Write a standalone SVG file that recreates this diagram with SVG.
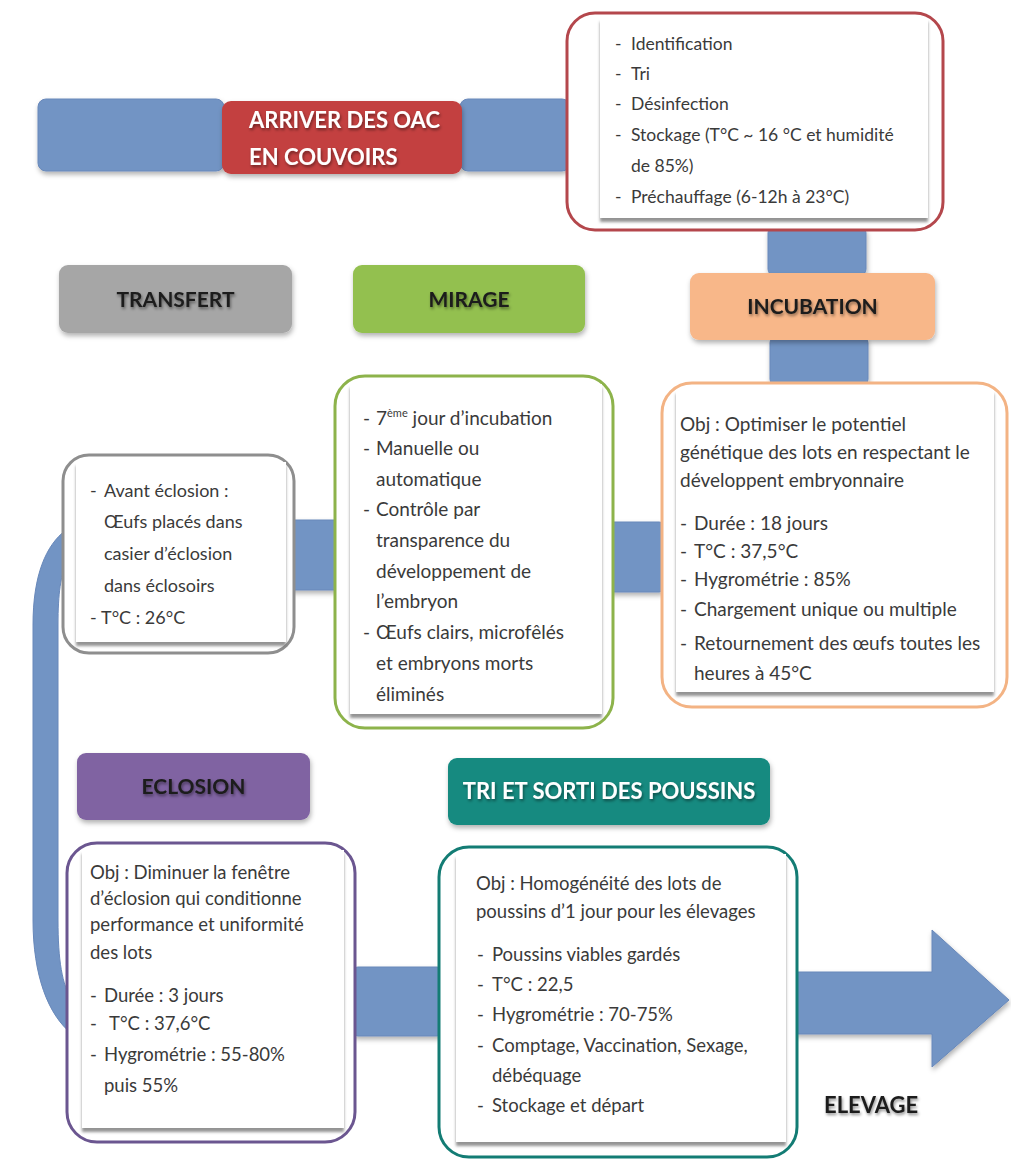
<svg xmlns="http://www.w3.org/2000/svg" width="1011" height="1160" viewBox="0 0 1011 1160">
<defs>
<filter id="sh" x="-10%" y="-10%" width="130%" height="140%"><feDropShadow dx="1" dy="3" stdDeviation="2.5" flood-color="#000" flood-opacity="0.3"/></filter>
<filter id="ish" x="-10%" y="-10%" width="120%" height="120%"><feDropShadow dx="0" dy="4" stdDeviation="1.5" flood-color="#777" flood-opacity="0.8"/></filter>
<filter id="tsh" x="-10%" y="-30%" width="120%" height="170%"><feDropShadow dx="1" dy="2" stdDeviation="1.5" flood-color="#000" flood-opacity="0.45"/></filter>
<style>
.blue{fill:#7294c4;stroke:#6888ba;stroke-width:1}
.hdr{font-family:Lato,"Liberation Sans",sans-serif;font-weight:bold;font-size:21px}
.big{font-size:22px}
.dark{fill:#1c1c1c}
.white{fill:#ffffff}
.body{font-family:Lato,"Liberation Sans",sans-serif;font-size:18px;fill:#3a3a3a}
.s175{font-size:17.5px}
.s185{font-size:18.5px}
.s19{font-size:19px}
.inner{fill:#ffffff}
.frame{fill:#ffffff;stroke-width:3}
</style>
</defs>
<rect width="1011" height="1160" fill="#ffffff"/>

<g id="connectors">
<rect class="blue" x="38" y="99" width="186" height="72" rx="8" filter="url(#sh)"/>
<rect class="blue" x="460" y="99" width="110" height="72" rx="8" filter="url(#sh)"/>
<rect class="blue" x="768" y="226" width="98" height="50" rx="7" filter="url(#sh)"/>
<rect class="blue" x="770" y="336" width="98" height="50" rx="7" filter="url(#sh)"/>
<rect class="blue" x="286" y="520" width="56" height="70" rx="7" filter="url(#sh)"/>
<rect class="blue" x="606" y="522" width="60" height="70" rx="7" filter="url(#sh)"/>
<rect class="blue" x="350" y="967" width="95" height="69" rx="8" filter="url(#sh)"/>
<path class="blue" d="M66 530 C46 545 33 575 33 625 L33 920 C33 975 48 1015 72 1034 L72 1000 C62 985 58 960 58 920 L58 625 C58 592 61 575 66 566 Z"/>
<path class="blue" d="M795 972 L932 972 L932 930 L1009 1000 L932 1067 L932 1034 L795 1034 Z" filter="url(#sh)"/>
</g>

<g id="node-arriver">
<rect x="222" y="101" width="240" height="73" rx="9" fill="#c3403f" filter="url(#sh)"/>
<g filter="url(#tsh)">
<text class="hdr big white" x="249" y="128">ARRIVER DES OAC</text>
<text class="hdr big white" x="249" y="165">EN COUVOIRS</text>
</g>
</g>

<g id="node-reception">
<rect class="frame" x="567" y="13" width="376" height="217" rx="28" stroke="#b4474c"/>
<rect class="inner" x="600" y="18" width="328" height="200" filter="url(#ish)"/>
<text class="body s175"><tspan x="615" y="50">-</tspan><tspan x="631" y="50">Identification</tspan></text>
<text class="body s175"><tspan x="615" y="80">-</tspan><tspan x="631" y="80">Tri</tspan></text>
<text class="body s175"><tspan x="615" y="110">-</tspan><tspan x="631" y="110">Désinfection</tspan></text>
<text class="body s175"><tspan x="615" y="141">-</tspan><tspan x="631" y="141">Stockage (T°C ~ 16 °C et humidité</tspan></text>
<text class="body s175" x="631" y="172">de 85%)</text>
<text class="body s175"><tspan x="615" y="203">-</tspan><tspan x="631" y="203">Préchauffage (6-12h à 23°C)</tspan></text>
</g>

<g id="node-transfert">
<rect x="59" y="265" width="233" height="68" rx="9" fill="#a6a6a6" filter="url(#sh)"/>
<text class="hdr dark" x="175.5" y="307" text-anchor="middle" filter="url(#tsh)">TRANSFERT</text>
</g>

<g id="node-mirage">
<rect x="353" y="265" width="232" height="68" rx="9" fill="#93c04f" filter="url(#sh)"/>
<text class="hdr dark" x="469" y="307" text-anchor="middle" filter="url(#tsh)">MIRAGE</text>
</g>

<g id="node-incubation">
<rect x="690" y="273" width="245" height="67" rx="9" fill="#f8b789" filter="url(#sh)"/>
<text class="hdr dark" x="812.5" y="314" text-anchor="middle" filter="url(#tsh)">INCUBATION</text>
</g>

<g id="node-transfert-detail">
<rect class="frame" x="63" y="455" width="231" height="198" rx="26" stroke="#8e8e8e"/>
<rect class="inner" x="76" y="462" width="210" height="180" filter="url(#ish)"/>
<text class="body"><tspan x="90" y="497">-</tspan><tspan x="104" y="497">Avant éclosion :</tspan></text>
<text class="body" x="104" y="528">Œufs placés dans</text>
<text class="body" x="104" y="560">casier d’éclosion</text>
<text class="body" x="104" y="592">dans éclosoirs</text>
<text class="body"><tspan x="90" y="624">-</tspan><tspan x="101" y="624">T°C : 26°C</tspan></text>
</g>

<g id="node-mirage-detail">
<rect class="frame" x="335" y="376" width="278" height="352" rx="30" stroke="#8db34b"/>
<rect class="inner" x="350" y="384" width="252" height="330" filter="url(#ish)"/>
<text class="body s19"><tspan x="363" y="425">-</tspan><tspan x="376" y="425">7</tspan><tspan font-size="11" dy="-8">ème</tspan><tspan dy="8"> jour d’incubation</tspan></text>
<text class="body s19"><tspan x="363" y="455">-</tspan><tspan x="376" y="455">Manuelle ou</tspan></text>
<text class="body s19" x="376" y="486">automatique</text>
<text class="body s19"><tspan x="363" y="516">-</tspan><tspan x="376" y="516">Contrôle par</tspan></text>
<text class="body s19" x="376" y="547">transparence du</text>
<text class="body s19" x="376" y="578">développement de</text>
<text class="body s19" x="376" y="608">l’embryon</text>
<text class="body s19"><tspan x="363" y="639">-</tspan><tspan x="376" y="639">Œufs clairs, microfêlés</tspan></text>
<text class="body s19" x="376" y="670">et embryons morts</text>
<text class="body s19" x="376" y="701">éliminés</text>
</g>

<g id="node-incubation-detail">
<rect class="frame" x="662" y="383" width="345" height="324" rx="30" stroke="#f3b384"/>
<rect class="inner" x="676" y="390" width="318" height="302" filter="url(#ish)"/>
<text class="body s19" x="680" y="431">Obj : Optimiser le potentiel</text>
<text class="body s19" x="680" y="459">génétique des lots en respectant le</text>
<text class="body s19" x="680" y="487">développent embryonnaire</text>
<text class="body s19"><tspan x="680" y="530">-</tspan><tspan x="694" y="530">Durée : 18 jours</tspan></text>
<text class="body s19"><tspan x="680" y="558">-</tspan><tspan x="694" y="558">T°C : 37,5°C</tspan></text>
<text class="body s19"><tspan x="680" y="586">-</tspan><tspan x="694" y="586">Hygrométrie : 85%</tspan></text>
<text class="body s19"><tspan x="680" y="616">-</tspan><tspan x="694" y="616">Chargement unique ou multiple</tspan></text>
<text class="body s19"><tspan x="680" y="650">-</tspan><tspan x="694" y="650">Retournement des œufs toutes les</tspan></text>
<text class="body s19" x="694" y="680">heures à 45°C</text>
</g>

<g id="node-eclosion">
<rect x="77" y="753" width="233" height="67" rx="9" fill="#8064a2" filter="url(#sh)"/>
<text class="hdr dark" x="193.5" y="794" text-anchor="middle" filter="url(#tsh)">ECLOSION</text>
</g>

<g id="node-tri">
<rect x="448" y="758" width="322" height="67" rx="9" fill="#138a80" filter="url(#sh)"/>
<text class="hdr big white" x="609" y="799" text-anchor="middle" filter="url(#tsh)">TRI ET SORTI DES POUSSINS</text>
</g>

<g id="node-eclosion-detail">
<rect class="frame" x="67" y="843" width="288" height="299" rx="30" stroke="#6b5690"/>
<rect class="inner" x="82" y="850" width="262" height="278" filter="url(#ish)"/>
<text class="body s185" x="90" y="879">Obj : Diminuer la fenêtre</text>
<text class="body s185" x="90" y="905">d’éclosion qui conditionne</text>
<text class="body s185" x="90" y="931">performance et uniformité</text>
<text class="body s185" x="90" y="959">des lots</text>
<text class="body s185"><tspan x="90" y="1002">-</tspan><tspan x="104" y="1002">Durée : 3 jours</tspan></text>
<text class="body s185"><tspan x="90" y="1030">-</tspan><tspan x="109" y="1030">T°C : 37,6°C</tspan></text>
<text class="body s185"><tspan x="90" y="1061">-</tspan><tspan x="104" y="1061">Hygrométrie : 55-80%</tspan></text>
<text class="body s185" x="104" y="1092">puis 55%</text>
</g>

<g id="node-tri-detail">
<rect class="frame" x="439" y="847" width="358" height="310" rx="30" stroke="#137c74"/>
<rect class="inner" x="456" y="854" width="330" height="288" filter="url(#ish)"/>
<text class="body s185" x="476" y="890">Obj : Homogénéité des lots de</text>
<text class="body s185" x="476" y="918">poussins d’1 jour pour les élevages</text>
<text class="body s185"><tspan x="477" y="961">-</tspan><tspan x="492" y="961">Poussins viables gardés</tspan></text>
<text class="body s185"><tspan x="477" y="991">-</tspan><tspan x="492" y="991">T°C : 22,5</tspan></text>
<text class="body s185"><tspan x="477" y="1021">-</tspan><tspan x="492" y="1021">Hygrométrie : 70-75%</tspan></text>
<text class="body s185"><tspan x="477" y="1052">-</tspan><tspan x="492" y="1052">Comptage, Vaccination, Sexage,</tspan></text>
<text class="body s185" x="492" y="1082">débéquage</text>
<text class="body s185"><tspan x="477" y="1112">-</tspan><tspan x="492" y="1112">Stockage et départ</tspan></text>
</g>

<g id="node-elevage">
<text class="hdr big dark" x="824" y="1113" filter="url(#tsh)">ELEVAGE</text>
</g>
</svg>
